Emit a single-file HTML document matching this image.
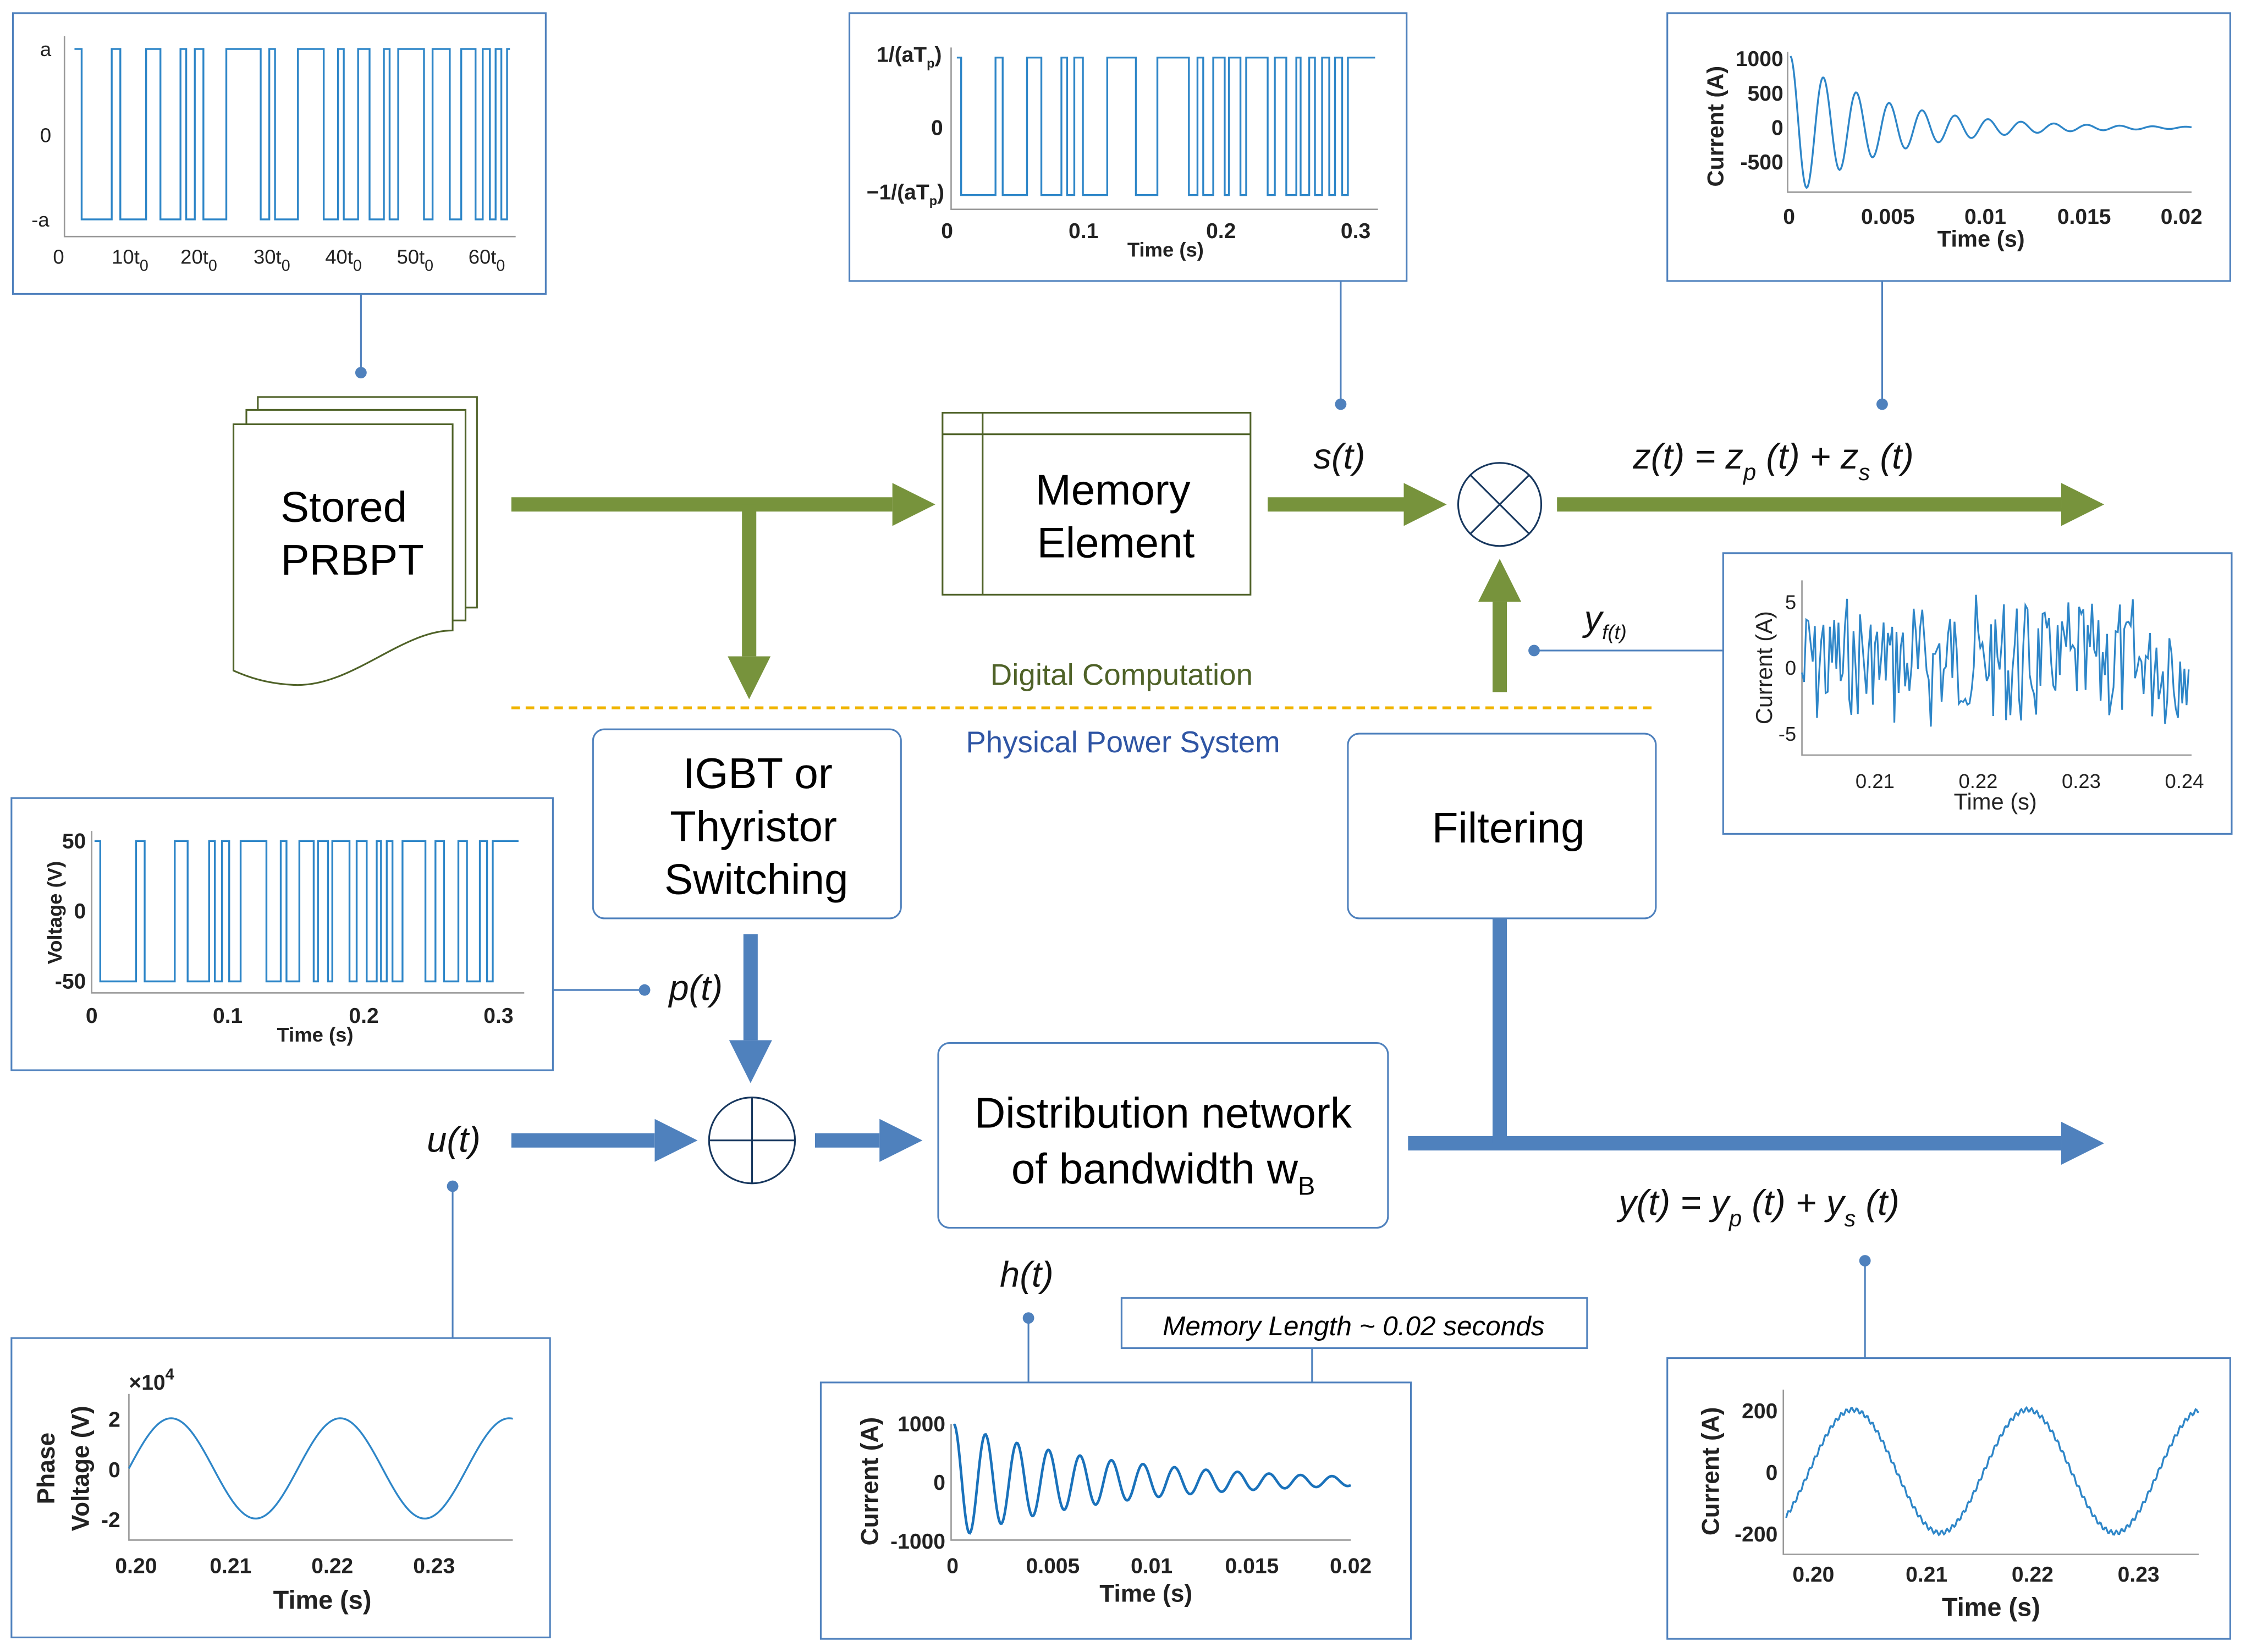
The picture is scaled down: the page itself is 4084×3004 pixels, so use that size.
<!DOCTYPE html>
<html><head><meta charset="utf-8"><style>
html,body{margin:0;padding:0;background:#fff}
svg{display:block}
text{font-family:"Liberation Sans",Arial,sans-serif}
.ax{font-size:14px;fill:#222}
.axb{font-size:15px;fill:#222;font-weight:bold}
.it{font-style:italic;font-size:25px;fill:#111}
.big{font-size:30px;fill:#000}
</style></head><body>
<svg width="4084" height="3004" viewBox="0 0 1568 1153" xmlns="http://www.w3.org/2000/svg">
<defs>
<marker id="ag" markerWidth="3" markerHeight="3" refX="0" refY="1.5" orient="auto" markerUnits="strokeWidth"><path d="M0,0 L3,1.5 L0,3 z" fill="#77933c"/></marker>
<marker id="ab" markerWidth="3" markerHeight="3" refX="0" refY="1.5" orient="auto" markerUnits="strokeWidth"><path d="M0,0 L3,1.5 L0,3 z" fill="#4f81bd"/></marker>
</defs>
<g fill="none" stroke="#4f81bd" stroke-width="1.2">
<rect x="9" y="9" width="372" height="196"/>
<rect x="593" y="9" width="389" height="187"/>
<rect x="1164" y="9" width="393" height="187"/>
<rect x="1203" y="386" width="355" height="196"/>
<rect x="8" y="557" width="378" height="190"/>
<rect x="8" y="934" width="376" height="209"/>
<rect x="573" y="965" width="412" height="179"/>
<rect x="1164" y="948" width="393" height="196"/>
<rect x="783" y="906" width="325" height="35"/>
<rect x="414" y="509" width="215" height="132" rx="8"/>
<rect x="941" y="512" width="215" height="129" rx="8"/>
<rect x="655" y="728" width="314" height="129" rx="8"/>
<path d="M252 205V260 M936 196V282 M1314 196V282 M1071 454H1203 M386 691H450 M316 828V934 M718 920V965 M916 941V965 M1302 880V948"/>
</g>
<g fill="#4f81bd">
<circle cx="252" cy="260" r="4"/><circle cx="936" cy="282" r="4"/><circle cx="1314" cy="282" r="4"/>
<circle cx="1071" cy="454" r="4"/><circle cx="450" cy="691" r="4"/><circle cx="316" cy="828" r="4"/>
<circle cx="718" cy="920" r="4"/><circle cx="1302" cy="880" r="4"/>
</g>
<g stroke="#77933c" stroke-width="10" fill="none">
<path d="M357 352H623" marker-end="url(#ag)"/>
<path d="M523 352V458" marker-end="url(#ag)"/>
<path d="M885 352H980" marker-end="url(#ag)"/>
<path d="M1087 352H1439" marker-end="url(#ag)"/>
<path d="M1047 483V420" marker-end="url(#ag)"/>
</g>
<line x1="357" y1="494" x2="1153" y2="494" stroke="#f0b400" stroke-width="2" stroke-dasharray="6,4"/>
<text x="783" y="478" font-size="21" fill="#4f6228" text-anchor="middle">Digital Computation</text>
<text x="784" y="525" font-size="21" fill="#2f55a4" text-anchor="middle">Physical Power System</text>
<g fill="#fff" stroke="#4f6228" stroke-width="1.2">
<rect x="180" y="277" width="153" height="147"/>
<rect x="172" y="286" width="153" height="147"/>
<path d="M163 296H316V440C280 440 245 480 205 478C185 477 172 472 163 468Z"/>
</g>
<text x="240" y="364" class="big" text-anchor="middle">Stored</text>
<text x="246" y="401" class="big" text-anchor="middle">PRBPT</text>
<g fill="none" stroke="#4f6228" stroke-width="1.2"><rect x="658" y="288" width="215" height="127"/><path d="M658 303H873M686 288V415"/></g>
<text x="777" y="352" class="big" text-anchor="middle">Memory</text>
<text x="779" y="389" class="big" text-anchor="middle">Element</text>
<circle cx="1047" cy="352" r="29" fill="#fff" stroke="#17375e" stroke-width="1.2"/>
<path d="M1026.5 331.5L1067.5 372.5M1067.5 331.5L1026.5 372.5" stroke="#17375e" stroke-width="1.2"/>
<text x="917" y="327" class="it">s(t)</text>
<text x="1140" y="327" class="it">z(t) = z<tspan font-size="16" dy="8">p</tspan><tspan dy="-8"> (t) + z</tspan><tspan font-size="16" dy="8">s</tspan><tspan dy="-8"> (t)</tspan></text>
<text x="1106" y="440" class="it">y<tspan font-size="14" dy="6">f(t)</tspan></text>
<g stroke="#4f81bd" stroke-width="10" fill="none">
<path d="M524 652V726" marker-end="url(#ab)"/>
<path d="M357 796H457" marker-end="url(#ab)"/>
<path d="M569 796H614" marker-end="url(#ab)"/>
<path d="M983 798H1439" marker-end="url(#ab)"/>
<path d="M1047 641V798"/>
</g>
<circle cx="525" cy="796" r="30" fill="#fff" stroke="#17375e" stroke-width="1.2"/>
<path d="M495 796H555M525 766V826" stroke="#17375e" stroke-width="1.2"/>
<text x="529" y="550" class="big" text-anchor="middle">IGBT or</text>
<text x="526" y="587" class="big" text-anchor="middle">Thyristor</text>
<text x="528" y="624" class="big" text-anchor="middle">Switching</text>
<text x="1053" y="588" class="big" text-anchor="middle">Filtering</text>
<text x="812" y="787" class="big" text-anchor="middle">Distribution network</text>
<text x="706" y="826" class="big">of bandwidth w<tspan font-size="18" dy="8">B</tspan></text>
<text x="467" y="698" class="it">p(t)</text>
<text x="298" y="804" class="it">u(t)</text>
<text x="698" y="898" class="it">h(t)</text>
<text x="1130" y="848" class="it">y(t) = y<tspan font-size="16" dy="8">p</tspan><tspan dy="-8"> (t) + y</tspan><tspan font-size="16" dy="8">s</tspan><tspan dy="-8"> (t)</tspan></text>
<text x="945" y="932" font-size="19" font-style="italic" text-anchor="middle" fill="#000">Memory Length ~ 0.02 seconds</text>

<g fill="none" stroke="#999" stroke-width="1"><path d="M45 25V165H360"/></g>
<path fill="none" stroke="#2e86c8" stroke-width="1.3" d="M52 34H57V153H78V34H84V153H102V34H112V153H126V34H130V153H136V34H142V153H158V34H182V153H188V34H192V153H208V34H226V153H236V34H240V153H250V34H258V153H268V34H272V153H278V34H296V153H302V34H314V153H322V34H332V153H337V34H342V153H346V34H350V153H354V34H356"/>
<g class="ax" font-size="15"><text x="28" y="39">a</text><text x="28" y="99">0</text><text x="22" y="158">-a</text>
<text x="37" y="184">0</text><text x="78" y="184">10t<tspan font-size="11" dy="5">0</tspan></text><text x="126" y="184">20t<tspan font-size="11" dy="5">0</tspan></text><text x="177" y="184">30t<tspan font-size="11" dy="5">0</tspan></text><text x="227" y="184">40t<tspan font-size="11" dy="5">0</tspan></text><text x="277" y="184">50t<tspan font-size="11" dy="5">0</tspan></text><text x="327" y="184">60t<tspan font-size="11" dy="5">0</tspan></text></g>

<path d="M664 33V146H962" fill="none" stroke="#999"/>
<path fill="none" stroke="#2e86c8" stroke-width="1.3" d="M668 40H671V136H695V40H700V136H717V40H727V136H741V40H745V136H750V40H756V136H773V40H793V136H808V40H830V136H836V40H840V136H847V40H855V136H858V40H866V136H870V40H885V136H890V40H898V136H905V40H908V136H914V40H918V136H923V40H928V136H932V40H937V136H941V40H960"/>
<g class="axb" font-size="12"><text x="612" y="43">1/(aT<tspan font-size="9" dy="4">p</tspan><tspan dy="-4">)</tspan></text><text x="650" y="94">0</text><text x="605" y="139">−1/(aT<tspan font-size="9" dy="4">p</tspan><tspan dy="-4">)</tspan></text>
<text x="657" y="166">0</text><text x="746" y="166">0.1</text><text x="842" y="166">0.2</text><text x="936" y="166">0.3</text><text x="787" y="179" font-size="14">Time (s)</text></g>

<path d="M1248 36V134H1530" fill="none" stroke="#999"/>
<path id="d1" fill="none" stroke="#2e86c8" stroke-width="1.3"/>
<g class="axb"><text x="1245" y="46" text-anchor="end">1000</text><text x="1245" y="70" text-anchor="end">500</text><text x="1245" y="94" text-anchor="end">0</text><text x="1245" y="118" text-anchor="end">-500</text>
<text x="1249" y="156" text-anchor="middle">0</text><text x="1318" y="156" text-anchor="middle">0.005</text><text x="1386" y="156" text-anchor="middle">0.01</text><text x="1455" y="156" text-anchor="middle">0.015</text><text x="1523" y="156" text-anchor="middle">0.02</text>
<text x="1383" y="172" text-anchor="middle" font-size="16">Time (s)</text>
<text transform="translate(1203,88) rotate(-90)" text-anchor="middle" font-size="16">Current (A)</text></g>

<path d="M1258 405V527H1530" fill="none" stroke="#999"/>
<path id="n1" fill="none" stroke="#2e86c8" stroke-width="1.2"/>
<g class="ax"><text x="1254" y="425" text-anchor="end">5</text><text x="1254" y="471" text-anchor="end">0</text><text x="1254" y="517" text-anchor="end">-5</text>
<text x="1309" y="550" text-anchor="middle">0.21</text><text x="1381" y="550" text-anchor="middle">0.22</text><text x="1453" y="550" text-anchor="middle">0.23</text><text x="1525" y="550" text-anchor="middle">0.24</text>
<text x="1393" y="565" text-anchor="middle" font-size="16">Time (s)</text>
<text transform="translate(1237,466) rotate(-90)" text-anchor="middle" font-size="16">Current (A)</text></g>

<path d="M64 580V693H366" fill="none" stroke="#999"/>
<path fill="none" stroke="#2e86c8" stroke-width="1.3" d="M66 587H70V685H95V587H101V685H122V587H131V685H146V587H150V685H155V587H160V685H168V587H186V685H196V587H200V685H209V587H219V685H222V587H229V685H232V587H244V685H249V587H256V685H263V587H266V685H270V587H274V685H281V587H297V685H304V587H310V685H320V587H326V685H335V587H340V685H344V587H362"/>
<g class="axb" font-size="12"><text x="60" y="592" text-anchor="end">50</text><text x="60" y="641" text-anchor="end">0</text><text x="60" y="690" text-anchor="end">-50</text>
<text x="64" y="714" text-anchor="middle">0</text><text x="159" y="714" text-anchor="middle">0.1</text><text x="254" y="714" text-anchor="middle">0.2</text><text x="348" y="714" text-anchor="middle">0.3</text>
<text x="220" y="727" text-anchor="middle" font-size="14">Time (s)</text>
<text transform="translate(43,637) rotate(-90)" text-anchor="middle" font-size="14">Voltage (V)</text></g>

<path d="M90 973V1075H358" fill="none" stroke="#999"/>
<path id="s1" fill="none" stroke="#2e86c8" stroke-width="1.3"/>
<g class="axb" font-size="16"><text x="90" y="970">×10<tspan font-size="11" dy="-7">4</tspan></text><text x="84" y="996" text-anchor="end">2</text><text x="84" y="1031" text-anchor="end">0</text><text x="84" y="1066" text-anchor="end">-2</text>
<text x="95" y="1098" text-anchor="middle">0.20</text><text x="161" y="1098" text-anchor="middle">0.21</text><text x="232" y="1098" text-anchor="middle">0.22</text><text x="303" y="1098" text-anchor="middle">0.23</text>
<text x="225" y="1123" text-anchor="middle" font-size="18">Time (s)</text>
<text transform="translate(38,1025) rotate(-90)" text-anchor="middle" font-size="17">Phase</text>
<text transform="translate(62,1025) rotate(-90)" text-anchor="middle" font-size="17">Voltage (V)</text></g>

<path d="M664 994V1075H943" fill="none" stroke="#999"/>
<path id="d2" fill="none" stroke="#1a72bb" stroke-width="1.8"/>
<g class="axb"><text x="660" y="999" text-anchor="end">1000</text><text x="660" y="1040" text-anchor="end">0</text><text x="660" y="1081" text-anchor="end">-1000</text>
<text x="665" y="1098" text-anchor="middle">0</text><text x="735" y="1098" text-anchor="middle">0.005</text><text x="804" y="1098" text-anchor="middle">0.01</text><text x="874" y="1098" text-anchor="middle">0.015</text><text x="943" y="1098" text-anchor="middle">0.02</text>
<text x="800" y="1118" text-anchor="middle" font-size="17">Time (s)</text>
<text transform="translate(613,1034) rotate(-90)" text-anchor="middle" font-size="17">Current (A)</text></g>

<path d="M1245 970V1085H1535" fill="none" stroke="#999"/>
<path id="s2" fill="none" stroke="#2e86c8" stroke-width="1.3"/>
<g class="axb" font-size="16"><text x="1241" y="990" text-anchor="end">200</text><text x="1241" y="1033" text-anchor="end">0</text><text x="1241" y="1076" text-anchor="end">-200</text>
<text x="1266" y="1104" text-anchor="middle">0.20</text><text x="1345" y="1104" text-anchor="middle">0.21</text><text x="1419" y="1104" text-anchor="middle">0.22</text><text x="1493" y="1104" text-anchor="middle">0.23</text>
<text x="1390" y="1128" text-anchor="middle" font-size="18">Time (s)</text>
<text transform="translate(1200,1027) rotate(-90)" text-anchor="middle" font-size="17">Current (A)</text></g>
</svg>
<script>
function P(id,x0,x1,f){var d="",n=400;for(var i=0;i<=n;i++){var x=x0+(x1-x0)*i/n;d+=(i?"L":"M")+x.toFixed(2)+" "+f(x).toFixed(2);}document.getElementById(id).setAttribute("d",d);}
P("d1",1250,1530,function(x){var t=x-1250;return 89-50*Math.exp(-t/65)*Math.cos(2*Math.PI*t/23);});
P("d2",666,943,function(x){var t=x-666;return 1034-40*Math.exp(-t/110)*Math.cos(2*Math.PI*t/22);});
P("s1",90,358,function(x){return 1025-35*Math.sin(2*Math.PI*(x-90)/118);});
P("s2",1247,1535,function(x){return 1027-43*Math.sin(2*Math.PI*(x-1263)/122)+1.5*Math.sin(x*1.7);});
var s=7,d="";for(var x=1258;x<=1528;x+=1.5){s=(s*9301+49297)%233280;var r=s/233280;var y=462+44*(r-0.5)*2*0.9+10*Math.sin(x*0.7);d+=(d?"L":"M")+x+" "+y.toFixed(1);}
document.getElementById("n1").setAttribute("d",d);
</script>
</body></html>
